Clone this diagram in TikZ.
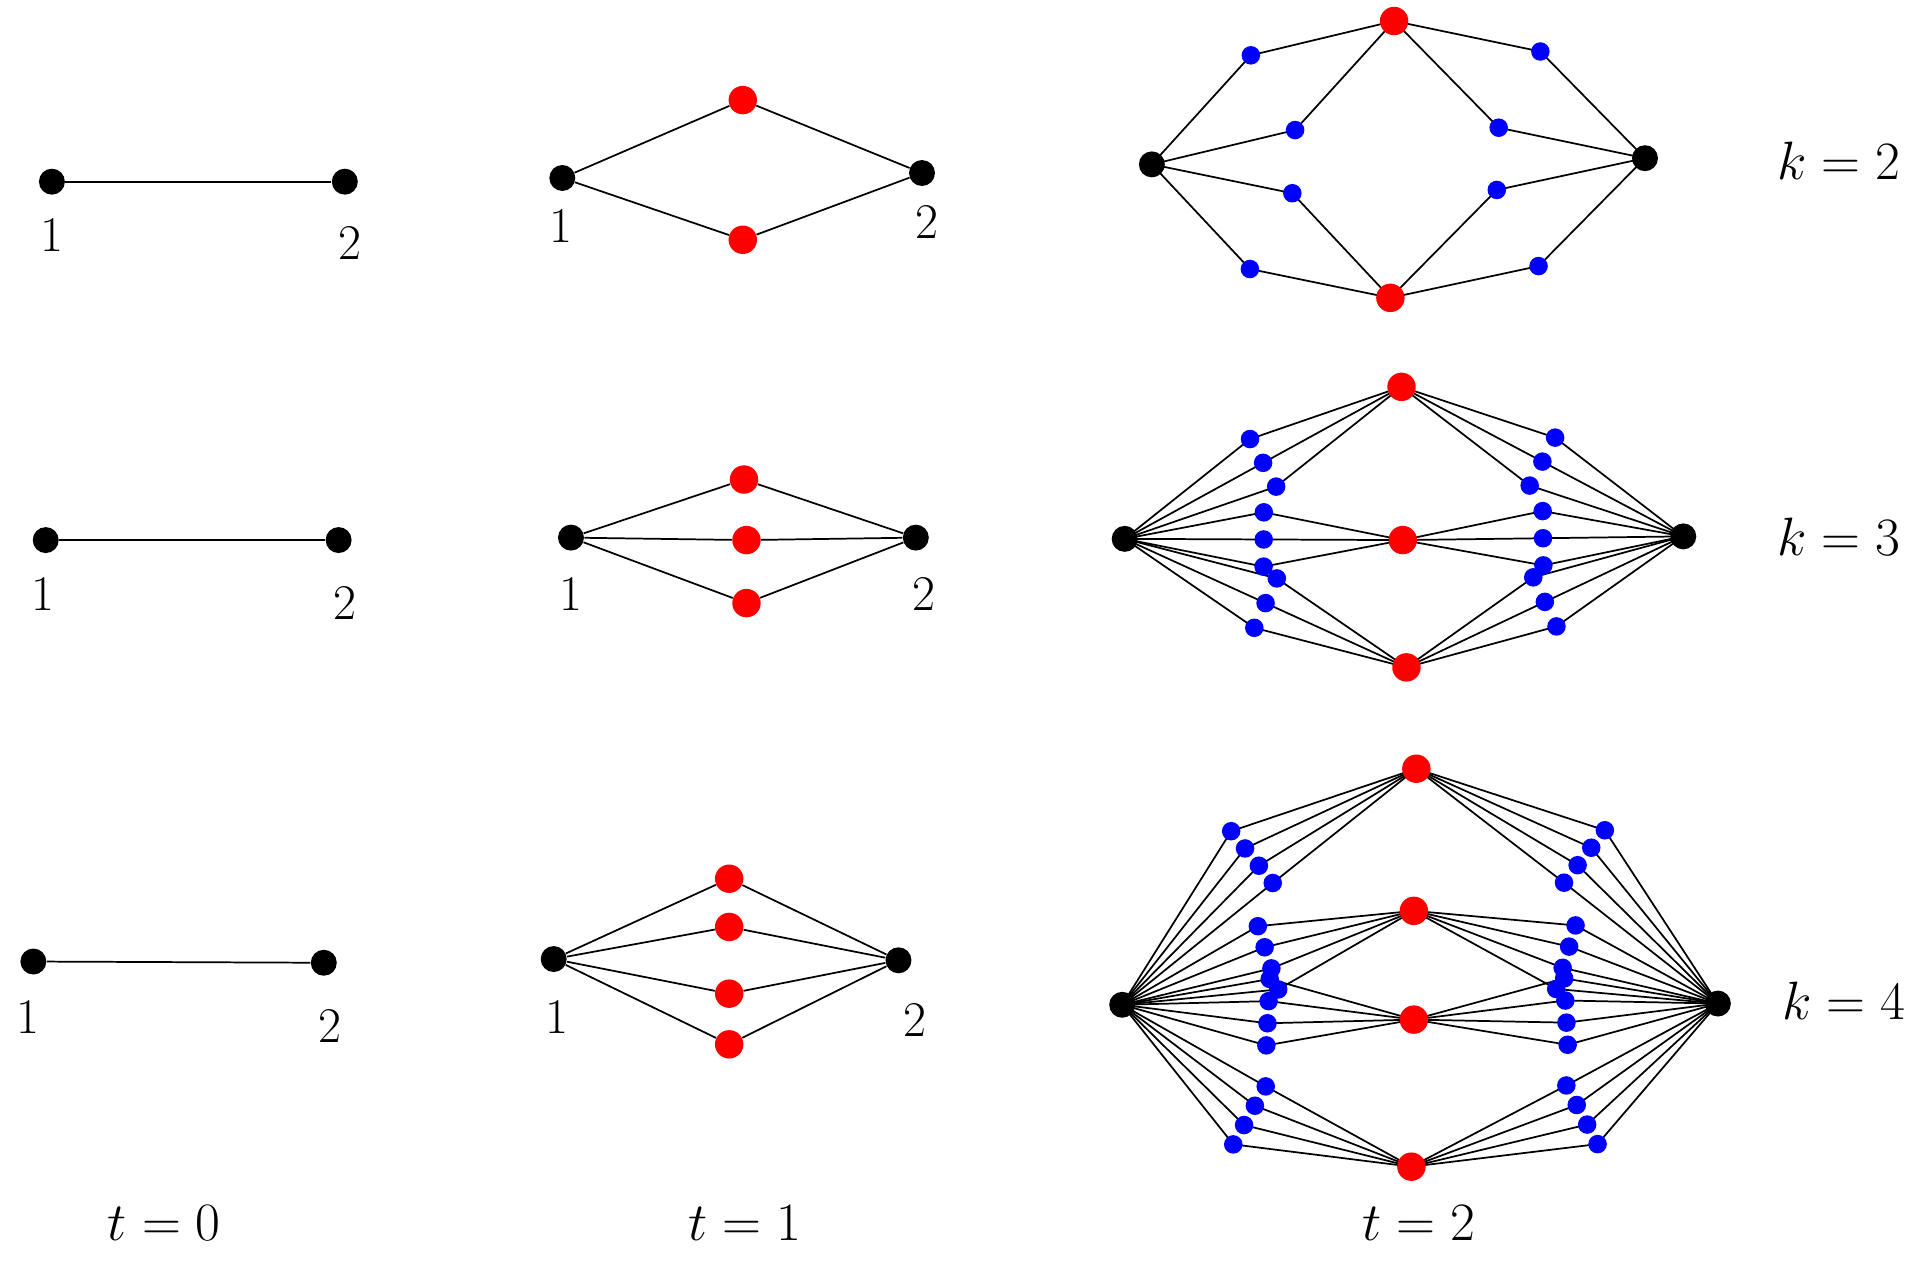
\documentclass[tikz,border=0pt]{standalone}
\usetikzlibrary{calc}
\begin{document}
\begin{tikzpicture}[x=0.02cm,y=-0.02cm,
  bk/.style={circle,fill=black,inner sep=0,minimum size=0.42cm},
  rd/.style={circle,fill=red,inner sep=0,minimum size=0.46cm},
  bl/.style={circle,fill=blue,inner sep=0,minimum size=0.3cm},
  lab/.style={font=\fontsize{23}{27}\selectfont},
  ed/.style={line width=0.8pt}]
\useasboundingbox (0,0) rectangle (1560,1020);
% t=0
\foreach \k/\ax/\ay/\bx/\by/\lax/\lay/\lbx/\lby in {2/42/147/279/147/42/190/283/197, 3/37/437/274/437/35/481/279/488, 4/27/778/262/779/23/823/267/830}{
  \node[bk] (za\k) at (\ax,\ay) {};
  \node[bk] (zb\k) at (\bx,\by) {};
  \draw[ed] (za\k) -- (zb\k);
  \node[lab] (zla\k) at (\lax,\lay) {1};
  \node[lab] (zlb\k) at (\lbx,\lby) {2};
}
% t=1
\node[bk] (oa2) at (455,144) {}; \node[bk] (ob2) at (746,140) {};
\node[rd] (or21) at (601,81) {}; \node[rd] (or22) at (601,194) {};
\node[bk] (oa3) at (462,435) {}; \node[bk] (ob3) at (741,435) {};
\node[rd] (or31) at (602,388) {}; \node[rd] (or32) at (604,437) {}; \node[rd] (or33) at (604,488) {};
\node[bk] (oa4) at (448,776) {}; \node[bk] (ob4) at (727,777) {};
\node[rd] (or41) at (590,711) {}; \node[rd] (or42) at (590,750) {}; \node[rd] (or43) at (590,804) {}; \node[rd] (or44) at (590,845) {};
\foreach \k in {2,3,4}{
  \foreach \i in {1,...,\k}{
    \draw[ed] (oa\k) -- (or\k\i) -- (ob\k);
  }
}
\foreach \k/\lax/\lay/\lbx/\lby in {2/454/183/750/180, 3/462/481/748/481, 4/451/823/740/825}{
  \node[lab] (ola\k) at (\lax,\lay) {1};
  \node[lab] (olb\k) at (\lbx,\lby) {2};
}
% t=2 coordinates
\coordinate (L2) at (932,133); \coordinate (R2) at (1331,128);
\coordinate (r21) at (1128,17); \coordinate (r22) at (1125,241);
\coordinate (L3) at (910,436); \coordinate (R3) at (1362,434);
\coordinate (r31) at (1134,313); \coordinate (r32) at (1135,437); \coordinate (r33) at (1138,540);
\coordinate (L4) at (908,813); \coordinate (R4) at (1390,812);
\coordinate (r41) at (1146,622); \coordinate (r42) at (1144,737); \coordinate (r43) at (1144,825); \coordinate (r44) at (1142,944);
\foreach \k/\sp in {2/40, 3/12.5, 4/10.2}{
  \foreach \i in {1,...,\k}{
    \foreach \e/\sx in {L/-1,R/1}{
      \foreach \j in {1,...,\k}{
        \pgfmathsetmacro\off{(\j-(\k+1)/2)*\sp}
        \pgfmathsetmacro\dy{(\k==4)*((\i==1)*(-24)+(\i==4)*24)}
        \pgfmathsetmacro\dx{(\k==4)*((\i==1)+(\i==4))*\sx*14}
        \coordinate (c\e\k\i\j) at ($($(\e\k)!0.5!(r\k\i)!\off pt!90:(r\k\i)$)+(\dx,\dy)$);
        \draw[ed] (\e\k) -- (c\e\k\i\j) -- (r\k\i);
      }
    }
  }
}
\foreach \k in {2,3,4}{
  \foreach \i in {1,...,\k}{
    \foreach \e in {L,R}{
      \foreach \j in {1,...,\k}{
        \node[bl] (n\e\k\i\j) at (c\e\k\i\j) {};
      }
    }
    \node[rd] (nr\k\i) at (r\k\i) {};
  }
  \node[bk] (nL\k) at (L\k) {};
  \node[bk] (nR\k) at (R\k) {};
}
% labels
\node[lab] (k2) at (1488,130) {$k=2$};
\node[lab] (k3) at (1488,434) {$k=3$};
\node[lab] (k4) at (1492,810) {$k=4$};
\node[lab] (t0) at (133,990) {$t=0$};
\node[lab] (t1) at (603,990) {$t=1$};
\node[lab] (t2) at (1148,990) {$t=2$};
\end{tikzpicture}
\end{document}
